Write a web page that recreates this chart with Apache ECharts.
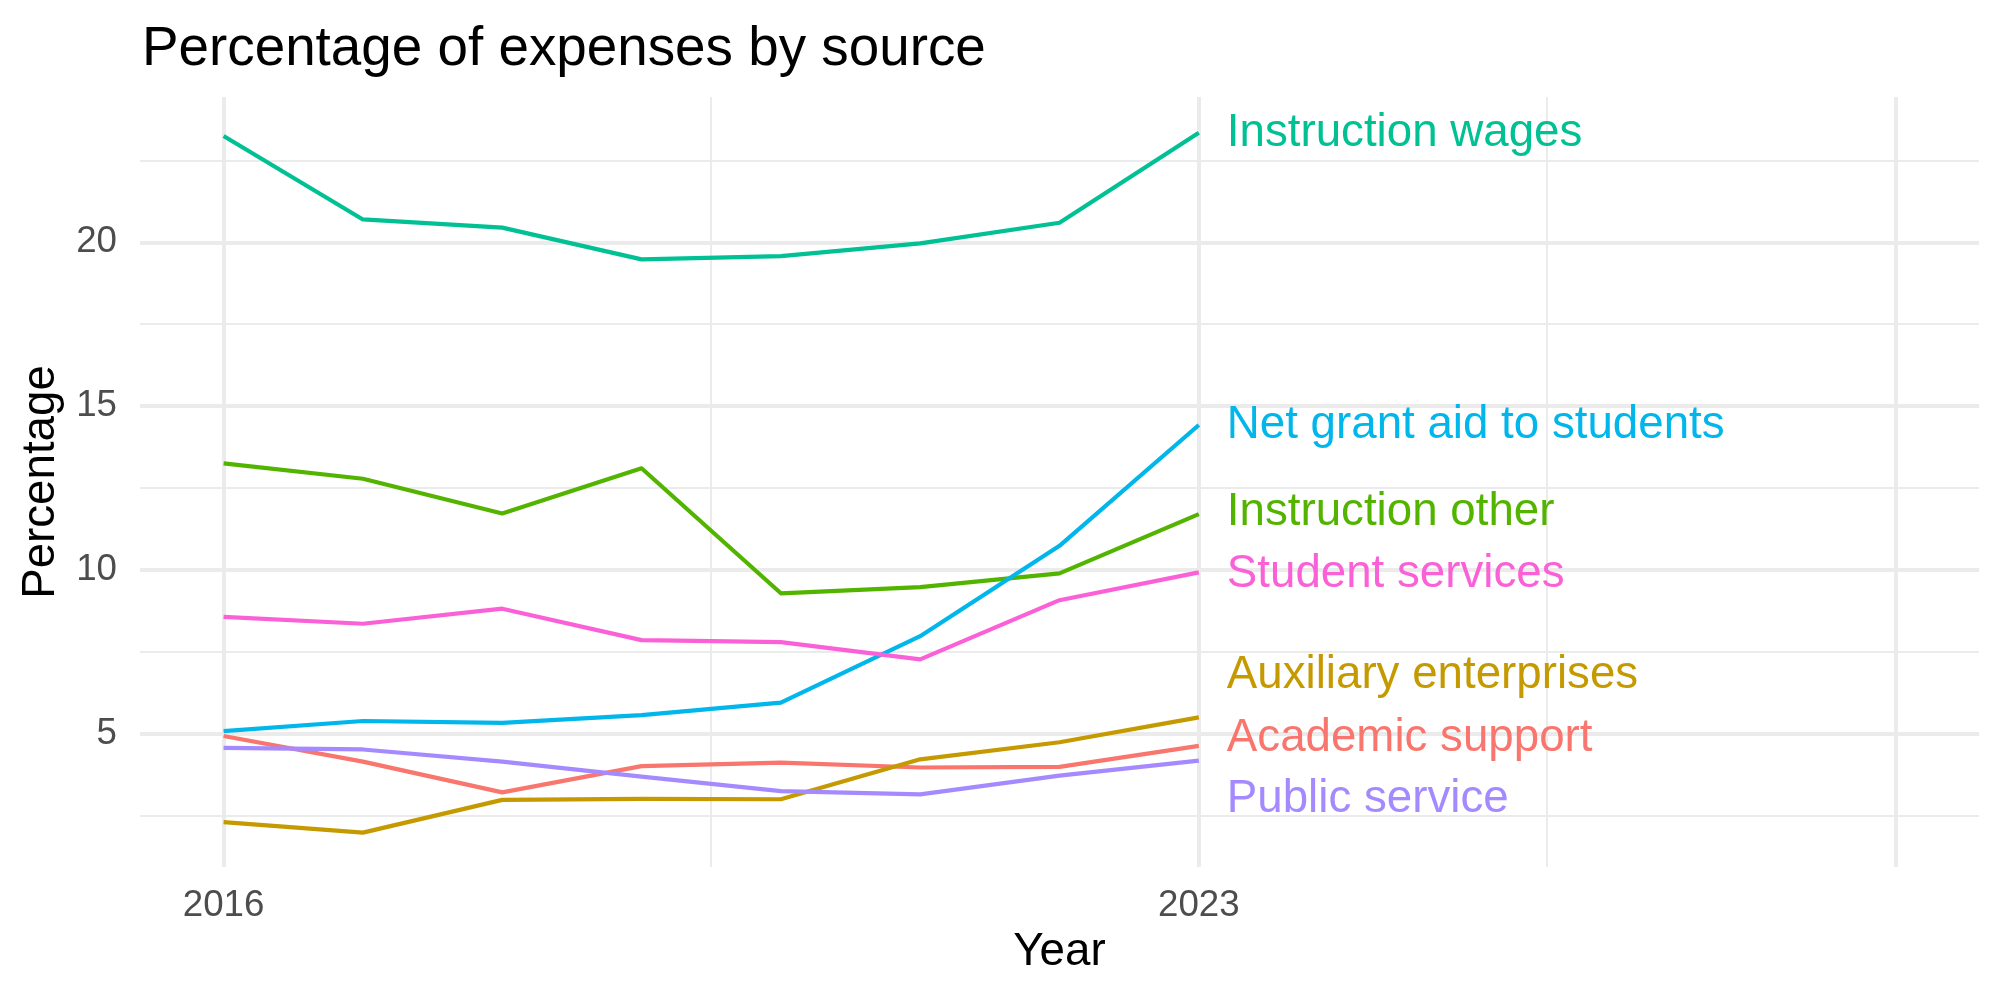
<!DOCTYPE html>
<html>
<head>
<meta charset="utf-8">
<script src="https://cdn.jsdelivr.net/npm/echarts@6/dist/echarts.min.js"></script>
<style>
html,body{margin:0;padding:0;background:#fff;}
#chart{width:2000px;height:1000px;}
</style>
</head>
<body>
<div id="chart"></div>
<script>
// ---- data ----
const years = [2016, 2017, 2018, 2019, 2020, 2021, 2022, 2023];
const seriesNames = ["Academic support", "Auxiliary enterprises", "Instruction other",
  "Instruction wages", "Net grant aid to students", "Public service", "Student services"];
const academicSupport      = [4.92, 4.14, 3.20, 4.00, 4.11, 3.96, 3.98, 4.62];
const auxiliaryEnterprises = [2.29, 1.97, 2.97, 3.00, 2.99, 4.21, 4.73, 5.49];
const instructionOther     = [13.25, 12.78, 11.72, 13.10, 9.28, 9.47, 9.89, 11.70];
const instructionWages     = [23.25, 20.70, 20.45, 19.48, 19.58, 19.97, 20.60, 23.35];
const netGrantAid          = [5.07, 5.38, 5.32, 5.56, 5.94, 7.97, 10.73, 14.42];
const publicService        = [4.56, 4.51, 4.14, 3.68, 3.24, 3.14, 3.71, 4.17];
const studentServices      = [8.56, 8.35, 8.81, 7.85, 7.79, 7.26, 9.07, 9.92];
// label anchor values (repelled) for the end labels, in data units
const labelValues = [4.86, 6.78, 11.75, 23.33, 14.42, 2.97, 9.86];
const xTickLabels = [2016, 2023];
const yTickLabels = [5, 10, 15, 20];
const xMajorGrid = [2016, 2023, 2028];
const xMinorGrid = [2019.5, 2025.5];
const yMajorGrid = [5, 10, 15, 20];
const yMinorGrid = [2.5, 7.5, 12.5, 17.5, 22.5];

// ---- styling ----
const values = [academicSupport, auxiliaryEnterprises, instructionOther, instructionWages,
  netGrantAid, publicService, studentServices];
const colors = ["#F8766D", "#C49A00", "#53B400", "#00C094", "#00B6EB", "#A58AFF", "#FB61D7"];
const FONT = "Liberation Sans, Arial, Helvetica, sans-serif";
const GRID = "#EBEBEB";
const MAJOR_W = 4.0, MINOR_W = 2.0, LINE_W = 4.2;

const gridLines = [];
xMajorGrid.forEach(v => gridLines.push({xAxis: v, lineStyle: {color: GRID, width: MAJOR_W, type: 'solid'}}));
xMinorGrid.forEach(v => gridLines.push({xAxis: v, lineStyle: {color: GRID, width: MINOR_W, type: 'solid'}}));
yMajorGrid.forEach(v => gridLines.push({yAxis: v, lineStyle: {color: GRID, width: MAJOR_W, type: 'solid'}}));
yMinorGrid.forEach(v => gridLines.push({yAxis: v, lineStyle: {color: GRID, width: MINOR_W, type: 'solid'}}));

const series = [{
  type: 'line', data: [], z: 0, silent: true,
  markLine: {z: 0, silent: true, symbol: ['none', 'none'], label: {show: false}, animation: false,
    emphasis: {disabled: true}, data: gridLines}
}];
seriesNames.forEach((name, i) => {
  series.push({
    name: name, type: 'line', z: 3, showSymbol: false, silent: true,
    lineStyle: {width: LINE_W, color: colors[i], join: 'round', cap: 'butt'}, itemStyle: {color: colors[i]},
    data: years.map((y, k) => [y, values[i][k]])
  });
  series.push({
    name: name + ' label', type: 'scatter', z: 4, silent: true, symbolSize: 0,
    itemStyle: {color: colors[i], opacity: 1},
    data: [[years[years.length - 1], labelValues[i]]],
    label: {show: true, position: 'right', distance: 28, formatter: name, opacity: 1,
      color: colors[i], fontSize: 45.7, fontFamily: FONT}
  });
});

const chart = echarts.init(document.getElementById('chart'), null, {renderer: 'canvas'});
chart.setOption({
  animation: false,
  backgroundColor: '#ffffff',
  title: {text: 'Percentage of expenses by source', left: 137, top: 17,
    textStyle: {fontSize: 54.8, fontWeight: 'normal', color: '#000', fontFamily: FONT}},
  grid: {left: 140, right: 21, top: 97, bottom: 133, containLabel: false},
  xAxis: {
    type: 'value', min: 2015.4, max: 2028.6,
    name: 'Year', nameLocation: 'middle', nameGap: 62,
    nameTextStyle: {fontSize: 45.7, color: '#000', fontFamily: FONT},
    axisLine: {show: false}, axisTick: {show: false}, splitLine: {show: false},
    axisLabel: {customValues: xTickLabels, margin: 20, fontSize: 36.7, color: '#4D4D4D', fontFamily: FONT,
      formatter: v => String(v)}
  },
  yAxis: {
    type: 'value', min: 0.92, max: 24.44,
    name: 'Percentage', nameLocation: 'middle', nameGap: 76, nameRotate: 90,
    nameTextStyle: {fontSize: 45.7, color: '#000', fontFamily: FONT},
    axisLine: {show: false}, axisTick: {show: false}, splitLine: {show: false},
    axisLabel: {customValues: yTickLabels, margin: 23, fontSize: 36.7, color: '#4D4D4D', fontFamily: FONT,
      formatter: v => String(v)}
  },
  series: series
});
</script>
</body>
</html>
